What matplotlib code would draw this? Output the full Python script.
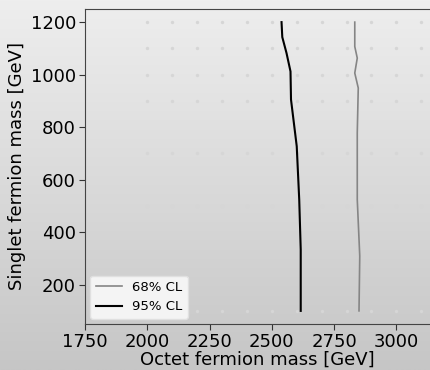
import matplotlib
matplotlib.use('Agg')
import matplotlib.pyplot as plt
import numpy as np

# scan grid (faint dots)
grid_octet = [2000, 2100, 2200, 2300, 2400, 2500, 2600, 2700, 2800, 2900, 3000, 3100]
grid_singlet = [100, 500, 700, 900, 1000, 1100, 1200]

# 68% CL contour
cl68_octet = [2850, 2853, 2843, 2843, 2847, 2833, 2843, 2833, 2833]
cl68_singlet = [100, 309, 524, 778, 949, 1006, 1063, 1107, 1200]

# 95% CL contour
cl95_octet = [2616, 2616, 2610, 2600, 2577, 2575, 2559, 2542, 2539]
cl95_singlet = [100, 334, 524, 727, 905, 1012, 1082, 1143, 1200]

fig = plt.figure(figsize=(4.3, 3.7), dpi=100)

# background gradient over the whole figure
bg = fig.add_axes([0, 0, 1, 1], zorder=-10)
grad = np.linspace(0, 1, 256).reshape(-1, 1)
bg.imshow(grad, aspect='auto', cmap=matplotlib.colors.LinearSegmentedColormap.from_list(
    'bg', ['#eeeeee', '#c6c6c6']), extent=[0, 1, 0, 1], origin='upper')
bg.axis('off')

ax = fig.add_axes([85 / 430, 46 / 370, 345 / 430, 315 / 370])
ax.patch.set_alpha(0)

gx, gy = np.meshgrid(grid_octet, grid_singlet)
ax.scatter(gx.ravel(), gy.ravel(), s=6, color='#d6d6d6', linewidths=0, zorder=1)

ax.plot(cl68_octet, cl68_singlet, color='#858585', lw=1.2, label='68% CL', zorder=2)
ax.plot(cl95_octet, cl95_singlet, color='black', lw=1.5, label='95% CL', zorder=2)

ax.set_xlim(1750, 3135)
ax.set_ylim(50, 1250)
ax.set_xticks([1750, 2000, 2250, 2500, 2750, 3000])
ax.set_yticks([200, 400, 600, 800, 1000, 1200])
ax.set_xlabel('Octet fermion mass [GeV]', fontsize=13, labelpad=0)
ax.set_ylabel('Singlet fermion mass [GeV]', fontsize=13, labelpad=3)
ax.tick_params(labelsize=13, length=4, pad=2.5, color='#333333')
for s in ax.spines.values():
    s.set_color('#444444')
ax.spines['right'].set_visible(False)

leg = ax.legend(loc='lower left', fontsize=9.5, frameon=True, fancybox=True,
                facecolor='#f4f4f4', edgecolor='#e0e0e0', framealpha=1,
                borderaxespad=0.4)

fig.savefig('out.png', dpi=100)
